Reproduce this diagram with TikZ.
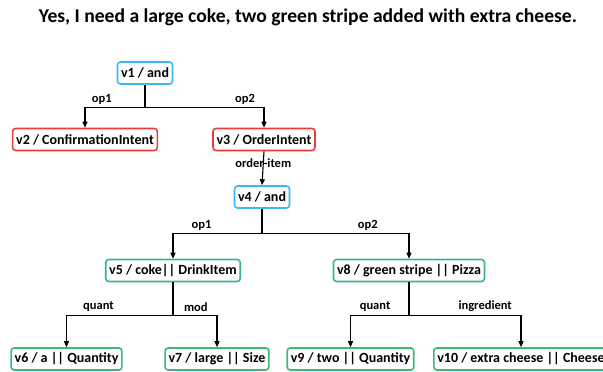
\documentclass[tikz,border=0pt]{standalone}
\usepackage{fontspec}
\setmainfont{Carlito}
\usetikzlibrary{arrows.meta}
\definecolor{andblue}{HTML}{3DB8EE}
\definecolor{intentred}{HTML}{EE3B3B}
\definecolor{itemgreen}{HTML}{3CB878}
\tikzset{
    andnode/.style={rectangle, rounded corners=3pt, draw=andblue, line width=1.6pt, fill=white, minimum height=22pt, inner xsep=3.5pt, inner ysep=2pt, font=\bfseries\fontsize{14}{16}\selectfont},
    intent/.style={andnode, draw=intentred},
    item/.style={andnode, draw=itemgreen},
    edge/.style={-{Triangle[length=6pt, width=5pt]}, line width=1.1pt},
    rel/.style={font=\bfseries\fontsize{12.5}{14}\selectfont, inner sep=1pt}
}

\begin{document}
\begin{tikzpicture}[x=1pt, y=-1pt]
            \clip (0,0) rectangle (603,372);
            \node (title) at (308,17) {\bfseries\fontsize{19.6}{22}\selectfont Yes, I need a large coke, two green stripe added with extra cheese.};

            \node (v1) [andnode] at (145,73) {v1 / and};
            \node (v2) [intent] at (85,139.5) {v2 / ConfirmationIntent};
            \node (v3) [intent] at (264,139.5) {v3 / OrderIntent};
            \node (v4) [andnode] at (262,197) {v4 / and};
            \node (v5) [item] at (173,270.5) {v5 / coke|| DrinkItem};
            \node (v8) [item] at (409,270.5) {v8 / green stripe || Pizza};
            \node (v6) [item] at (66.5,359) {v6 / a || Quantity};
            \node (v7) [item] at (217,359) {v7 / large || Size};
            \node (v9) [item] at (350.5,359) {v9 / two || Quantity};
            \node (v10) [item] at (521,359) {v10 / extra cheese || Cheese};

            \draw[edge] (v1.south) -- ++(0,23) -| node[rel, above=2pt, pos=0.36] {op1} (v2.north);
            \draw[edge] (v1.south) -- ++(0,23) -| node[rel, above=2pt, pos=0.42] {op2} (v3.north);
            \draw[edge] (v3.south) -- node[rel, pos=0.35] {order-item} (v4.north);
            \draw[edge] (v4.south) -- ++(0,25) -| node[rel, above=2pt, pos=0.34] {op1} (v5.north);
            \draw[edge] (v4.south) -- ++(0,25) -| node[rel, above=2pt, pos=0.36] {op2} (v8.north);
            \draw[edge] (v5.south) -- ++(0,33) -| node[rel, above=2pt, pos=0.35] {quant} (v6.north);
            \draw[edge] (v5.south) -- ++(0,33) -| node[rel, above=2pt, pos=0.26] {mod} (v7.north);
            \draw[edge] (v8.south) -- ++(0,33) -| node[rel, above=2pt, pos=0.29] {quant} (v9.north);
            \draw[edge] (v8.south) -- ++(0,33) -| node[rel, above=2pt, pos=0.34] {ingredient} (v10.north);
        \end{tikzpicture}
\end{document}
